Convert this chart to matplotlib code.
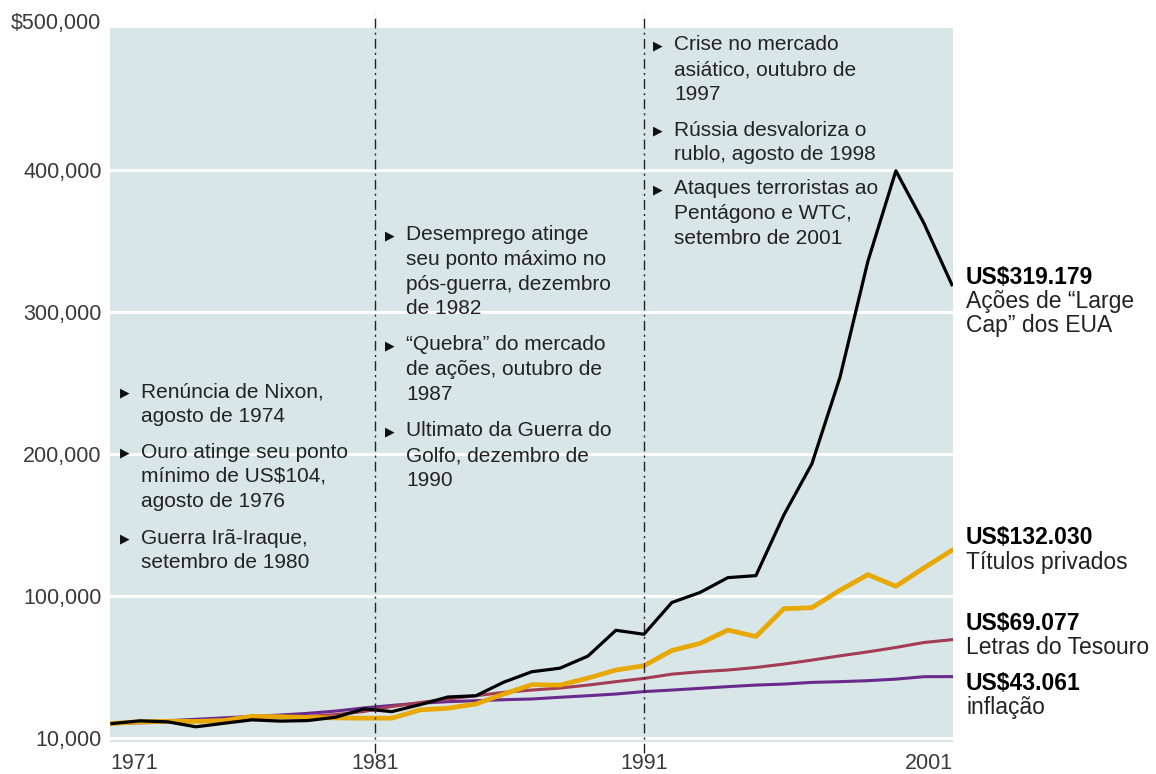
import matplotlib.pyplot as plt
import numpy as np

# Crescimento de US$10.000 investidos em 1971

years = np.arange(1971, 2002)

acoes = [10000, 11900, 11200, 7700, 10200, 12600, 11700, 12100, 14500, 20300,
         18400, 23300, 28700, 29600, 39200, 46500, 49000, 57500, 75700, 72900,
         95300, 102300, 112800, 114200, 157000, 193000, 253700, 335700, 399400,
         362500, 319179]
titulos = [10000, 11300, 11600, 11500, 12100, 15100, 14800, 14300, 14000, 13800,
           13800, 19600, 20800, 23800, 30800, 37400, 37100, 42000, 47700, 50700,
           61500, 66400, 75900, 71300, 90900, 91600, 103900, 114900, 106700,
           119600, 132030]
letras = [10000, 10500, 11000, 11800, 12700, 13400, 14100, 15000, 16300, 18500,
          22000, 24800, 27300, 29600, 32000, 33600, 35000, 37100, 39500, 41800,
          44800, 46500, 47700, 49500, 51900, 54700, 57700, 60500, 63600, 67100,
          69077]
inflacao = [10000, 11000, 12000, 13000, 14000, 15000, 16000, 17200, 18800, 21000,
            22800, 24300, 25400, 26100, 26800, 27300, 28500, 29600, 30800, 32500,
            33600, 34800, 36000, 37100, 37800, 39000, 39500, 40200, 41300, 43000,
            43061]

y_ticks = [0, 100000, 200000, 300000, 400000]
y_labels = ['10,000', '100,000', '200,000', '300,000', '400,000']
y_top_label = '$500,000'

x_ticks = [1970.93, 1980.39, 1990.0, 2001.04]
x_labels = ['1971', '1981', '1991', '2001']
event_lines = [1980.39, 1990.0]

# eventos: (x px, y px da primeira linha, linhas)
eventos = [
    (141, 392, ['Renúncia de Nixon,', 'agosto de 1974']),
    (141, 452, ['Ouro atinge seu ponto', 'mínimo de US$104,', 'agosto de 1976']),
    (141, 538, ['Guerra Irã-Iraque,', 'setembro de 1980']),
    (406, 235, ['Desemprego atinge', 'seu ponto máximo no', 'pós-guerra, dezembro', 'de 1982']),
    (406, 345, ['“Quebra” do mercado', 'de ações, outubro de', '1987']),
    (406, 431, ['Ultimato da Guerra do', 'Golfo, dezembro de', '1990']),
    (674, 45, ['Crise no mercado', 'asiático, outubro de', '1997']),
    (674, 130, ['Rússia desvaloriza o', 'rublo, agosto de 1998']),
    (674, 189, ['Ataques terroristas ao', 'Pentágono e WTC,', 'setembro de 2001']),
]

rotulos = [
    (277, 'US$319.179', ['Ações de “Large', 'Cap” dos EUA']),
    (538, 'US$132.030', ['Títulos privados']),
    (623, 'US$69.077', ['Letras do Tesouro']),
    (683, 'US$43.061', ['inflação']),
]

W, H = 1156, 774
plt.rcParams['font.family'] = ['Liberation Sans', 'DejaVu Sans']

fig = plt.figure(figsize=(W / 100, H / 100), dpi=100)
ax = fig.add_axes([110 / W, 1 - 742 / H, (953 - 110) / W, (742 - 28) / H])
ax.set_facecolor('#d8e6e8')
for s in ax.spines.values():
    s.set_visible(False)

for g in y_ticks:
    ax.axhline(g, color='white', lw=2.2, zorder=1)

ax.plot(years, inflacao, color='#6a2a8c', lw=2.2, zorder=3)
ax.plot(years, letras, color='#a33c55', lw=2.2, zorder=3)
ax.plot(years, titulos, color='#e8a800', lw=3.4, zorder=4)
ax.plot(years, acoes, color='black', lw=2.3, zorder=5)

for xv in event_lines:
    ax.axvline(xv, ymin=-0.015, ymax=1.019, color='#222222', lw=1.0,
               ls=(0, (7, 3, 1.5, 3)), clip_on=False, zorder=6)

ax.set_xlim(1970.93, 2001.04)
ax.set_ylim(-3000, 500000)

ax.set_yticks(y_ticks)
ax.set_yticklabels(y_labels)
ax.set_xticks(x_ticks)
ax.set_xticklabels(x_labels)
ax.tick_params(axis='both', length=0, labelsize=15.5, colors='#3a3a3a')
ax.tick_params(axis='y', pad=6)
ax.tick_params(axis='x', pad=8)
labs = ax.get_xticklabels()
labs[0].set_horizontalalignment('left')
labs[-1].set_horizontalalignment('right')

fig.text(101 / W, 1 - 23 / H, y_top_label, fontsize=15.5, color='#3a3a3a',
         ha='right', va='center')

# anotações de eventos
for x0, y0, linhas in eventos:
    fig.text((x0 - 21) / W, 1 - (y0 + 1) / H, '▶', fontsize=9, color='#111111',
             va='center', ha='left', family='DejaVu Sans')
    for i, t in enumerate(linhas):
        fig.text(x0 / W, 1 - (y0 + i * 24.5) / H, t, fontsize=15,
                 color='#222222', va='center', ha='left')

# rótulos finais das séries
for y0, valor, linhas in rotulos:
    fig.text(966 / W, 1 - y0 / H, valor, fontsize=16.5, fontweight='bold',
             color='black', va='center', ha='left')
    for i, t in enumerate(linhas):
        fig.text(966 / W, 1 - (y0 + 24.5 * (i + 1)) / H, t, fontsize=16.5,
                 color='#222222', va='center', ha='left')

fig.savefig('out.png', dpi=100, facecolor='white')
